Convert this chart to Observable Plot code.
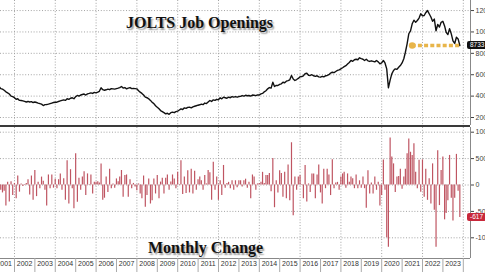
<!DOCTYPE html>
<html><head><meta charset="utf-8">
<script src="https://cdn.jsdelivr.net/npm/d3@7"></script>
<script src="https://cdn.jsdelivr.net/npm/@observablehq/plot@0.6"></script>
<style>
html,body{margin:0;padding:0;background:#fff;}
#wrap{position:relative;width:485px;height:272px;overflow:hidden;font-family:"Liberation Sans",Arial,sans-serif;}
#top,#bottom{position:absolute;left:0;}
#top{top:0;} #bottom{top:127px;}
#divider{position:absolute;left:0;top:125px;width:470px;height:2px;background:#3a3a3a;}
.title{position:absolute;font-family:"Liberation Serif","DejaVu Serif",serif;font-weight:bold;font-size:16px;line-height:16px;color:#111;text-shadow:1.5px 1.5px 1.5px #9a9a9a;white-space:nowrap;}
.tag{position:absolute;font-size:6.5px;color:#fff;padding:0 3px;border-radius:2px;line-height:8px;height:8px;}
</style></head><body>
<div id="wrap">
  <div id="top"></div>
  <div id="divider"></div>
  <div id="bottom"></div>
  <div class="title" style="left:126px;top:15px;">JOLTS Job Openings</div>
  <div class="title" style="left:148px;top:240px;">Monthly Change</div>
</div>
<script>
// ---- data (thousands), monthly from Jan 2001 to Oct 2023 ----
const startYear = 2001;
const openings = [
  5200,5000,4900,4700,4650,4550,4400,4300,4200,4000,3950,3850,
  3700,3750,3600,3590,3550,3500,3450,3500,3450,3480,3400,3450,
  3400,3350,3300,3250,3120,3200,3215,3250,3300,3350,3400,3430,
  3430,3500,3550,3600,3650,3600,3750,3700,3800,3850,3750,3950,
  4060,4000,4100,4150,4200,4100,4215,4250,4300,4250,4350,4300,
  4370,4450,4780,4600,4550,4590,4650,4600,4700,4680,4650,4700,
  4750,4800,4900,4750,4800,4680,4750,4800,4700,4720,4700,4680,
  4500,4370,4250,4100,3900,3850,3750,3600,3430,3300,3100,2950,
  2810,2650,2550,2450,2340,2400,2300,2450,2500,2450,2550,2600,
  2700,2810,2750,2900,2850,2950,2965,2900,3000,3050,3100,3150,
  3190,3250,3200,3350,3300,3450,3590,3500,3650,3600,3700,3650,
  3840,3750,3900,3850,3800,3900,3850,3950,3900,3950,3900,3960,
  3980,4050,4000,4080,4030,4060,4000,4100,4080,4050,4120,4100,
  4215,4250,4400,4500,4680,4800,4750,5300,4900,5000,4990,5100,
  5150,5300,5250,5400,5450,5525,5930,5600,5460,5550,5650,5800,
  5835,5900,6100,6140,5950,5930,6000,5900,5850,5900,5800,5770,
  5850,5800,5900,5930,6000,6150,6235,6200,6300,6400,6450,6550,
  6650,6750,6850,7000,7150,7330,7250,7400,7450,7400,7580,7500,
  7450,7330,7450,7300,7240,7300,7250,7200,7330,7200,7020,7100,
  7330,7100,6550,4780,5500,6080,6400,6550,6500,6700,6860,7100,
  7490,8100,8890,9830,10100,10760,11100,10900,11070,11300,11700,11500,
  11540,11800,12000,11700,11400,11000,11200,10100,10700,10450,10900,11000,
  10560,9970,9750,10300,9820,9170,8920,9500,9350,8733
];
const monthlyChange = [
  -100,-150,-200,-100,-150,-120,-400,50,-320,60,-200,30,
  -260,170,-135,20,-30,10,30,100,-190,170,-290,275,
  -220,50,-70,150,70,-100,-400,190,-70,190,-60,110,
  -70,100,210,-100,120,-290,460,-360,290,-70,-450,590,
  -325,130,-100,150,250,-200,210,-10,190,-170,50,50,
  60,40,400,-290,-250,150,-140,300,-70,20,-60,115,
  60,150,275,-230,180,190,-230,100,-70,30,-40,-110,
  20,-170,-260,170,-420,-200,115,-360,-300,115,-170,180,
  -260,55,130,-170,130,190,-100,55,190,115,-70,240,
  -10,460,-180,150,-160,270,-150,300,-170,260,-100,100,
  150,80,-100,180,20,275,230,-290,430,-100,150,-290,
  80,-200,370,-60,30,50,-70,80,-100,80,-50,80,
  80,-40,80,110,-60,50,-260,190,150,-100,20,30,
  50,240,30,180,180,220,-130,500,-430,80,-150,270,
  220,-230,240,-260,380,-300,800,-580,150,-100,150,180,
  -10,-260,370,-320,20,-140,210,210,-260,190,380,-150,
  -360,300,-70,300,190,-200,480,-70,40,50,-100,150,
  210,240,-60,210,50,150,120,-70,190,-70,80,-60,
  150,-70,-440,270,-170,40,-170,150,-100,50,-400,-200,
  475,-100,-1000,-1180,890,530,400,-140,150,160,300,-80,
  150,300,590,870,620,560,780,240,-70,470,-135,476,
  -230,300,-290,120,-360,400,-480,-1180,650,-390,275,530,
  -660,-540,-300,560,-250,-680,-250,580,-120,-617
];
const yearLabels = [2001,2002,2003,2004,2005,2006,2007,2008,2009,2010,2011,2012,2013,2014,2015,2016,2017,2018,2019,2020,2021,2022,2023];
const gridYears = [2002,2004,2006,2008,2010,2012,2014,2016,2018,2020,2022,2024];
const topTicks = [2000,4000,6000,8000,10000,12000];
const bottomTicks = [-1000,-500,0,500,1000];
const refStart = [2021, 6];   // start month of the reference level line

// ---- build rows ----
const monthEnd = (y, m) => new Date(Date.UTC(y, m, 0)); // m: 1-based month -> last day
const rows = openings.map((v, i) => ({
  date: monthEnd(startYear + Math.floor(i / 12), (i % 12) + 1),
  level: v,
  change: monthlyChange[i]
}));
const last = rows[rows.length - 1];

// x domain: year starts spaced evenly across the frame
const t2002 = Date.UTC(2002, 0, 1), t2024 = Date.UTC(2024, 0, 1);
const pxPerMs = (462.8 - 14) / (t2024 - t2002);
const xDomain = [new Date(t2002 - 14 / pxPerMs), new Date(t2002 + 456 / pxPerMs)];
const yearStarts = yearLabels.concat([2024]).map(y => new Date(Date.UTC(y, 0, 1)));
const yearMids = yearLabels.map(y => new Date(Date.UTC(y, 6, 1)));
const gridDates = gridYears.map(y => new Date(Date.UTC(y, 0, 1)));

const axisStyle = {fontSize: "7px", fontFamily: "Liberation Sans, Arial, sans-serif", color: "#444", background: "transparent", overflow: "visible"};
const grid = {stroke: "#9a9a9a", strokeDasharray: "1,1.8", strokeWidth: 0.9};

const topChart = Plot.plot({
  width: 485, height: 125,
  marginLeft: 0, marginRight: 15, marginTop: 0, marginBottom: 0,
  style: axisStyle,
  x: {type: "utc", domain: xDomain, axis: null},
  y: {domain: [1252, 12940], axis: "right", ticks: topTicks, tickFormat: d => String(d), tickSize: 3, tickPadding: 2, label: null},
  marks: [
    Plot.ruleY(topTicks, grid),
    Plot.ruleX(gridDates, grid),
    Plot.ruleX([xDomain[1]], {stroke: "#888", strokeWidth: 1}),
    Plot.lineY(rows, {x: "date", y: "level", stroke: "#111", strokeWidth: 1.4, clip: true}),
    Plot.ruleY([{v: last.level, x1: monthEnd(refStart[0], refStart[1]), x2: last.date}],
      {y: "v", x1: "x1", x2: "x2", stroke: "#e8b54a", strokeWidth: 3.5, strokeDasharray: "4,2.2"}),
    Plot.dot([{v: last.level, x: monthEnd(refStart[0], refStart[1])}], {x: "x", y: "v", r: 3.3, fill: "#e8b54a"})
  ]
});
document.getElementById("top").appendChild(topChart);

const bottomChart = Plot.plot({
  width: 485, height: 145,
  marginLeft: 0, marginRight: 15, marginTop: 0, marginBottom: 14,
  style: axisStyle,
  x: {type: "utc", domain: xDomain},
  y: {domain: [-1392, 1089], axis: "right", ticks: bottomTicks, tickFormat: d => String(d), tickSize: 3, tickPadding: 2, label: null},
  marks: [
    Plot.ruleY(bottomTicks, grid),
    Plot.ruleX(gridDates, grid),
    Plot.ruleX(rows, {x: "date", y1: 0, y2: "change", stroke: "#bf5562", strokeWidth: 1.2, clip: true}),
    Plot.ruleX([xDomain[1]], {stroke: "#888", strokeWidth: 1}),
    Plot.ruleY([-1392], {stroke: "#888", strokeWidth: 1}),
    Plot.axisX(yearStarts, {anchor: "bottom", tickSize: 14, tickFormat: () => "", stroke: "#aaa", label: null}),
    Plot.axisX(yearMids, {anchor: "bottom", tickSize: 0, tickPadding: 3, tickFormat: d => String(d.getUTCFullYear()), fontSize: 7, fill: "#333", label: null})
  ]
});
document.getElementById("bottom").appendChild(bottomChart);

// value tags at the right edge
const wrap = document.getElementById("wrap");
function tag(text, yPos, bg) {
  const el = document.createElement("div");
  el.className = "tag";
  el.textContent = text;
  el.style.background = bg;
  el.style.left = "467px";
  el.style.top = (yPos - 4) + "px";
  wrap.appendChild(el);
}
tag(String(last.level), topChart.scale("y").apply(last.level), "#111");
tag(String(last.change), 127 + bottomChart.scale("y").apply(last.change), "#c8283a");
</script>
</body></html>
